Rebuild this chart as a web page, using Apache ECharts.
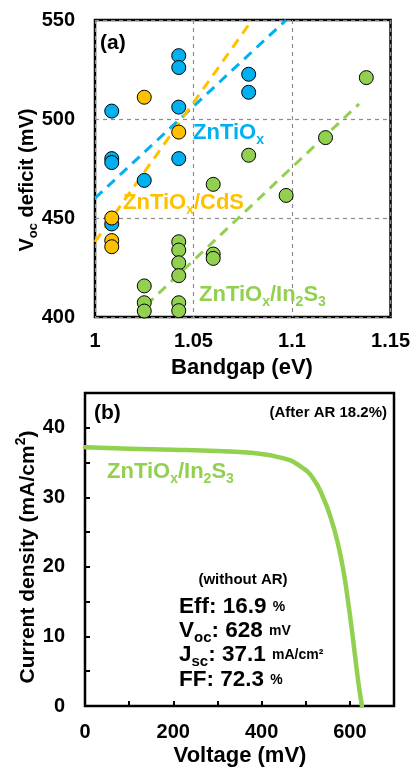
<!DOCTYPE html>
<html><head><meta charset="utf-8">
<script src="https://cdn.jsdelivr.net/npm/echarts@6/dist/echarts.min.js"></script>
<style>html,body{margin:0;padding:0;background:#fff}#c{width:413px;height:769px}</style>
</head><body><div id="c"></div>
<script>
// ---------- Data: panel (a) ----------
const blueX = [1.0085, 1.0085, 1.0085, 1.0085, 1.025, 1.0425, 1.0425, 1.0425, 1.0425, 1.078, 1.078];
const blueY = [504, 480, 478, 447, 469, 532, 526, 506, 480, 522.6, 513.5];
const orangeX = [1.0085, 1.0085, 1.0085, 1.025, 1.0425];
const orangeY = [450, 438.6, 435.5, 511, 493.4];
const greenX = [1.025, 1.025, 1.025, 1.0425, 1.0425, 1.0425, 1.0425, 1.0425, 1.0425, 1.06, 1.06, 1.06, 1.078, 1.097, 1.117, 1.1377];
const greenY = [415.7, 407.2, 403, 438, 433.8, 427.4, 420.9, 407.2, 403.2, 467, 431.8, 429.6, 481.7, 461.4, 490.6, 520.9];
const blueFitX = [1.0, 1.097];
const blueFitY = [460, 550];
const orangeFitX = [1.0, 1.079];
const orangeFitY = [438, 549];
const greenFitX = [1.026, 1.134];
const greenFitY = [406, 507.6];
const xTicksA = [1, 1.05, 1.1, 1.15];
const yTicksA = [400, 450, 500, 550];
// ---------- Data: panel (b) ----------
const voltage = [0, 100, 200, 300, 375, 450, 487, 517, 540, 558, 572, 585, 596, 606, 615, 621, 627.5];
const current = [37.2, 37.0, 36.85, 36.65, 36.4, 35.6, 34.5, 32.7, 29.9, 26.8, 23.6, 19.6, 15.0, 10.2, 5.5, 2.6, 0];
const xTicksB = [0, 200, 400, 600];
const yTicksB = [0, 10, 20, 30, 40];

const BLUE = '#00B0F0', ORANGE = '#FFC000', GREEN = '#92D050';
const FONT = "'Liberation Sans', Arial, sans-serif";

const zip = (xs, ys) => xs.map((x, i) => [x, ys[i]]);

function tok(size, color, extra) {
  return Object.assign({fontSize: size, fontWeight: 'bold', fontFamily: FONT, fill: color, color: color}, extra || {});
}
function richSet(size, color) {
  return {
    b: tok(size, color, {lineHeight: size + 6}),
    s: tok(Math.round(size * 0.65), color, {lineHeight: Math.round(size * 0.6), verticalAlign: 'bottom'}),
    p: tok(Math.round(size * 0.65), color, {lineHeight: Math.round(size * 0.6), verticalAlign: 'top'}),
    u: tok(Math.round(size * 0.6), color, {lineHeight: size + 6})
  };
}
function txt(x, y, text, size, color, align, rot) {
  return {
    type: 'text', x: x, y: y, rotation: rot || 0, z: 100,
    style: {
      text: text, rich: richSet(size, color),
      fontSize: size, fontWeight: 'bold', fontFamily: FONT, fill: color,
      align: align || 'left', textAlign: align || 'left',
      verticalAlign: 'middle', textVerticalAlign: 'middle'
    }
  };
}

const axisLabelStyle = {fontSize: 20, fontWeight: 'bold', fontFamily: FONT, color: '#000'};

const option = {
  animation: false,
  grid: [
    {left: 95, top: 20, width: 296, height: 297, show: true, borderColor: '#000', borderWidth: 2.5, backgroundColor: 'transparent'},
    {left: 85, top: 393, width: 309, height: 313, show: true, borderColor: '#000', borderWidth: 2.5, backgroundColor: 'transparent'}
  ],
  xAxis: [
    {gridIndex: 0, type: 'value', min: xTicksA[0], max: xTicksA[xTicksA.length - 1], interval: 0.05,
     axisLine: {show: false}, axisTick: {show: false},
     splitLine: {show: true, lineStyle: {color: '#8c8c8c', type: [4, 4], width: 1.2}},
     axisLabel: Object.assign({margin: 14, formatter: v => String(+v.toFixed(2))}, axisLabelStyle)},
    {gridIndex: 1, type: 'value', min: 0, max: 700, interval: 100,
     axisLine: {show: false},
     axisTick: {show: true, inside: true, length: 5, lineStyle: {color: '#000', width: 2}},
     splitLine: {show: false},
     axisLabel: Object.assign({margin: 16, formatter: v => (xTicksB.indexOf(v) >= 0 ? String(v) : '')}, axisLabelStyle)}
  ],
  yAxis: [
    {gridIndex: 0, type: 'value', min: yTicksA[0], max: yTicksA[yTicksA.length - 1], interval: 50,
     axisLine: {show: false}, axisTick: {show: false},
     splitLine: {show: true, lineStyle: {color: '#8c8c8c', type: [4, 4], width: 1.2}},
     axisLabel: Object.assign({margin: 20}, axisLabelStyle)},
    {gridIndex: 1, type: 'value', min: 0, max: 45, interval: 5,
     axisLine: {show: false},
     axisTick: {show: true, inside: true, length: 5, lineStyle: {color: '#000', width: 2}},
     splitLine: {show: false},
     axisLabel: Object.assign({margin: 20, formatter: v => (yTicksB.indexOf(v) >= 0 ? String(v) : '')}, axisLabelStyle)}
  ],
  series: [
    {type: 'line', xAxisIndex: 0, yAxisIndex: 0, data: zip(blueFitX, blueFitY), symbol: 'none',
     lineStyle: {color: BLUE, width: 3, type: [10, 7]}, z: 1},
    {type: 'line', xAxisIndex: 0, yAxisIndex: 0, data: zip(orangeFitX, orangeFitY), symbol: 'none',
     lineStyle: {color: ORANGE, width: 3, type: [10, 7]}, z: 1},
    {type: 'line', xAxisIndex: 0, yAxisIndex: 0, data: zip(greenFitX, greenFitY), symbol: 'none',
     lineStyle: {color: GREEN, width: 3, type: [10, 7]}, z: 1},
    {type: 'scatter', xAxisIndex: 0, yAxisIndex: 0, data: zip(blueX, blueY), symbolSize: 14,
     itemStyle: {color: BLUE, borderColor: '#000', borderWidth: 1, opacity: 1}, z: 3},
    {type: 'scatter', xAxisIndex: 0, yAxisIndex: 0, data: zip(orangeX, orangeY), symbolSize: 14,
     itemStyle: {color: ORANGE, borderColor: '#000', borderWidth: 1, opacity: 1}, z: 4},
    {type: 'scatter', xAxisIndex: 0, yAxisIndex: 0, data: zip(greenX, greenY), symbolSize: 14,
     itemStyle: {color: GREEN, borderColor: '#000', borderWidth: 1, opacity: 1}, z: 5},
    {type: 'line', xAxisIndex: 1, yAxisIndex: 1, data: zip(voltage, current), symbol: 'none',
     smooth: 0.5,
     lineStyle: {color: GREEN, width: 4.5, cap: 'round', join: 'round'}, z: 3}
  ],
  graphic: [
    // panel (a)
    txt(100, 43, '{b|(a)}', 21, '#000', 'left'),
    txt(193, 133, '{b|ZnTiO}{s|x}', 22, BLUE, 'left'),
    txt(123, 203, '{b|ZnTiO}{s|x}{b|/CdS}', 22, ORANGE, 'left'),
    txt(199, 295, '{b|ZnTiO}{s|x}{b|/In}{s|2}{b|S}{s|3}', 22, GREEN, 'left'),
    txt(242, 368, '{b|Bandgap (eV)}', 22, '#000', 'center'),
    txt(27, 180, '{b|V}{s|oc}{b| deficit (mV)}', 20, '#000', 'center', Math.PI / 2),
    // panel (b)
    txt(94, 413, '{b|(b)}', 21, '#000', 'left'),
    txt(387, 413, '{b|(After AR 18.2%)}', 15, '#000', 'right'),
    txt(107, 472, '{b|ZnTiO}{s|x}{b|/In}{s|2}{b|S}{s|3}', 22, GREEN, 'left'),
    txt(243, 580, '{b|(without AR)}', 15, '#000', 'center'),
    txt(179, 607, '{b|Eff: 16.9 }{u|%}', 22.5, '#000', 'left'),
    txt(179, 631, '{b|V}{s|oc}{b|: 628 }{u|mV}', 22.5, '#000', 'left'),
    txt(179, 655, '{b|J}{s|sc}{b|: 37.1 }{u|mA/cm²}', 22.5, '#000', 'left'),
    txt(179, 680, '{b|FF: 72.3 }{u|%}', 22.5, '#000', 'left'),
    txt(240, 756, '{b|Voltage (mV)}', 22, '#000', 'center'),
    txt(28, 557, '{b|Current density (mA/cm}{p|2}{b|)}', 21, '#000', 'center', Math.PI / 2)
  ]
};

const chart = echarts.init(document.getElementById('c'), null, {renderer: 'canvas'});
chart.setOption(option);
</script></body></html>
